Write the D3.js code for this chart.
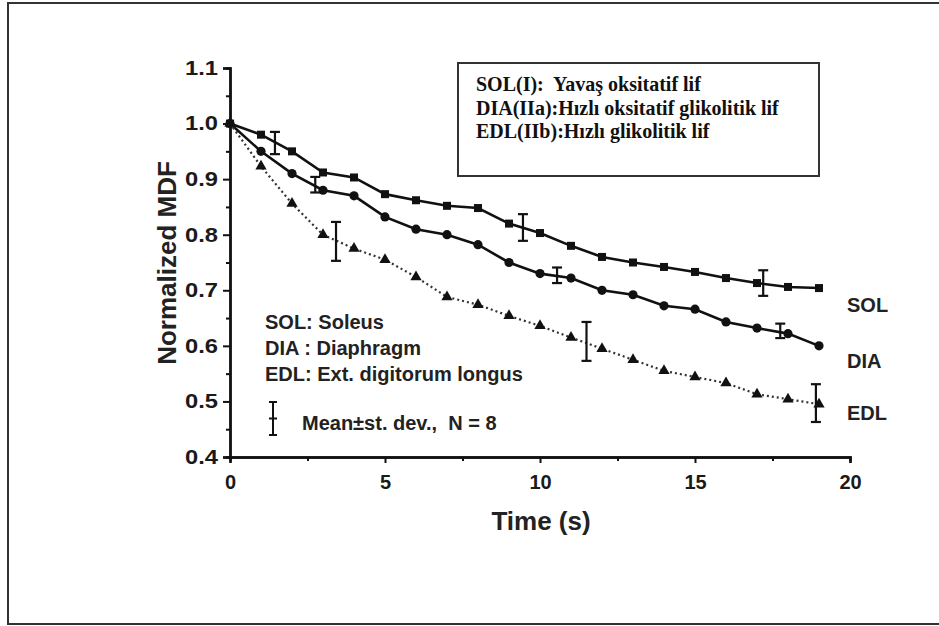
<!DOCTYPE html>
<html>
<head>
<meta charset="utf-8">
<script src="https://cdn.jsdelivr.net/npm/d3@7"></script>
<style>
  body { margin: 0; background: #fff; }
  text { font-family: "Liberation Sans", Arial, sans-serif; }
</style>
</head>
<body>
<svg id="chart" width="939" height="626"></svg>
<script>
// time points (s)
let time = d3.range(0, 20);
let solValues = [1.0, 0.98, 0.95, 0.912, 0.903, 0.873, 0.862, 0.852, 0.848, 0.82,
	0.803, 0.78, 0.76, 0.75, 0.742, 0.733, 0.722, 0.713, 0.706, 0.704];
let diaValues = [1.0, 0.95, 0.91, 0.88, 0.87, 0.832, 0.81, 0.80, 0.782, 0.75,
	0.73, 0.722, 0.70, 0.692, 0.672, 0.666, 0.643, 0.632, 0.622, 0.60];
let edlValues = [1.0, 0.923, 0.856, 0.80, 0.775, 0.755, 0.724, 0.688, 0.674, 0.654,
	0.636, 0.615, 0.595, 0.575, 0.555, 0.544, 0.533, 0.513, 0.504, 0.495];

// error bars: time, mean, sd
let solErr = [[1.45, 0.965, 0.02], [9.45, 0.813, 0.024], [17.2, 0.713, 0.023]];
let diaErr = [[2.75, 0.89, 0.014], [10.55, 0.727, 0.014], [17.75, 0.627, 0.013]];
let edlErr = [[3.42, 0.788, 0.035], [11.5, 0.608, 0.035], [18.9, 0.497, 0.034]];

let xTicks = [0, 5, 10, 15, 20];
let yTicks = [0.4, 0.5, 0.6, 0.7, 0.8, 0.9, 1.0, 1.1];

let legendLines = [
	'SOL(I):  Yavaş oksitatif lif',
	'DIA(IIa):Hızlı oksitatif glikolitik lif',
	'EDL(IIb):Hızlı glikolitik lif'
];
let noteLines = ['SOL: Soleus', 'DIA : Diaphragm', 'EDL: Ext. digitorum longus'];
let seriesNames = ['SOL', 'DIA', 'EDL'];

let svg = d3.select('#chart');

// outer frame
svg.append('rect')
	.attr('x', 8).attr('y', 3)
	.attr('width', 940).attr('height', 621)
	.attr('fill', 'none')
	.attr('stroke', '#333')
	.attr('stroke-width', 2);

let x = d3.scaleLinear().domain([0, 20]).range([230, 850]);
let y = d3.scaleLinear().domain([0.4, 1.1]).range([457, 68]);

//axes
svg.append('g')
	.attr('class', 'major x')
	.attr('transform', 'translate(0,' + y(0.4) + ')')
	.call(d3.axisBottom(x).tickValues(xTicks).tickSize(6).tickPadding(12).tickFormat(d3.format('d')));
svg.append('g')
	.attr('transform', 'translate(0,' + y(0.4) + ')')
	.call(d3.axisBottom(x).tickValues([2.5, 7.5, 12.5, 17.5]).tickSize(4).tickFormat(''));
svg.append('g')
	.attr('class', 'major y')
	.attr('transform', 'translate(' + x(0) + ',0)')
	.call(d3.axisLeft(y).tickValues(yTicks).tickSize(7).tickPadding(5).tickFormat(d3.format('.1f')));
svg.append('g')
	.attr('transform', 'translate(' + x(0) + ',0)')
	.call(d3.axisLeft(y).tickValues([0.45, 0.55, 0.65, 0.75, 0.85, 0.95, 1.05]).tickSize(4).tickFormat(''));

svg.selectAll('.domain').attr('stroke', '#111').attr('stroke-width', 2.4);
svg.selectAll('.tick line').attr('stroke', '#111').attr('stroke-width', 2);
svg.selectAll('.tick text')
	.attr('fill', '#1a1a1a')
	.style('font-size', '20px')
	.style('font-weight', 'bold');
// y labels in the picture are drawn a bit wider
svg.selectAll('.major.y .tick text')
	.attr('textLength', 33)
	.attr('lengthAdjust', 'spacingAndGlyphs');

svg.append('text')
	.attr('transform', 'translate(176,263) rotate(-90)')
	.attr('text-anchor', 'middle')
	.style('font-size', '26px').style('font-weight', 'bold')
	.attr('fill', '#222')
	.text('Normalized MDF');
svg.append('text')
	.attr('x', 541).attr('y', 530)
	.attr('text-anchor', 'middle')
	.style('font-size', '26px').style('font-weight', 'bold')
	.attr('fill', '#222')
	.text('Time (s)');

let line = d3.line().x(function(d, i){
	return x(time[i]);
}).y(function(d){
	return y(d);
});

function drawErr(errs) {
	let g = svg.append('g');
	errs.forEach(function(e) {
		let cx = x(e[0]), y1 = y(e[1] + e[2]), y2 = y(e[1] - e[2]);
		g.append('line').attr('x1', cx).attr('x2', cx).attr('y1', y1).attr('y2', y2)
			.attr('stroke', '#111').attr('stroke-width', 2.2);
		g.append('line').attr('x1', cx - 5).attr('x2', cx + 5).attr('y1', y1).attr('y2', y1)
			.attr('stroke', '#111').attr('stroke-width', 2.2);
		g.append('line').attr('x1', cx - 5).attr('x2', cx + 5).attr('y1', y2).attr('y2', y2)
			.attr('stroke', '#111').attr('stroke-width', 2.2);
	});
}

//SOL
svg.append('path').attr('d', line(solValues))
	.attr('fill', 'none').attr('stroke', '#111').attr('stroke-width', 2.6);
svg.append('g').selectAll('rect').data(solValues).join('rect')
	.attr('x', function(d, i){ return x(time[i]) - 4; })
	.attr('y', function(d){ return y(d) - 4; })
	.attr('width', 8).attr('height', 8)
	.attr('fill', '#111');
drawErr(solErr);

//DIA
svg.append('path').attr('d', line(diaValues))
	.attr('fill', 'none').attr('stroke', '#111').attr('stroke-width', 2.6);
svg.append('g').selectAll('circle').data(diaValues).join('circle')
	.attr('cx', function(d, i){ return x(time[i]); })
	.attr('cy', function(d){ return y(d); })
	.attr('r', 4.6)
	.attr('fill', '#111');
drawErr(diaErr);

//EDL
svg.append('path').attr('d', line(edlValues))
	.attr('fill', 'none').attr('stroke', '#333').attr('stroke-width', 2.2)
	.attr('stroke-dasharray', '2,3');
let tri = d3.symbol().type(d3.symbolTriangle).size(55);
svg.append('g').selectAll('path').data(edlValues).join('path')
	.attr('d', tri)
	.attr('transform', function(d, i){ return 'translate(' + x(time[i]) + ',' + y(d) + ')'; })
	.attr('fill', '#111');
drawErr(edlErr);

// series labels at right (baselines)
let labelBase = [312, 368, 420];
svg.append('g').selectAll('text').data(seriesNames).join('text')
	.attr('x', 847)
	.attr('y', function(d, i){ return labelBase[i]; })
	.style('font-size', '20px').style('font-weight', 'bold')
	.attr('fill', '#222')
	.text(function(d){ return d; });

// legend box
svg.append('rect')
	.attr('x', 458).attr('y', 63)
	.attr('width', 361).attr('height', 113)
	.attr('fill', '#fff')
	.attr('stroke', '#333').attr('stroke-width', 2);
svg.append('g').selectAll('text').data(legendLines).join('text')
	.attr('x', 476)
	.attr('y', function(d, i){ return 91 + i * 23.5; })
	.attr('xml:space', 'preserve')
	.style('font-family', '"Liberation Serif", "Times New Roman", serif')
	.style('font-size', '20px').style('font-weight', 'bold')
	.attr('fill', '#111')
	.text(function(d){ return d; });

// notes
svg.append('g').selectAll('text').data(noteLines).join('text')
	.attr('x', 265)
	.attr('y', function(d, i){ return 329 + i * 26; })
	.style('font-size', '20px').style('font-weight', 'bold')
	.attr('fill', '#222')
	.text(function(d){ return d; });

// error bar key
let kx = 273, ky1 = 402, ky2 = 435;
svg.append('line').attr('x1', kx).attr('x2', kx).attr('y1', ky1).attr('y2', ky2)
	.attr('stroke', '#111').attr('stroke-width', 2);
svg.append('line').attr('x1', kx - 4).attr('x2', kx + 4).attr('y1', ky1).attr('y2', ky1)
	.attr('stroke', '#111').attr('stroke-width', 2);
svg.append('line').attr('x1', kx - 4).attr('x2', kx + 4).attr('y1', ky2).attr('y2', ky2)
	.attr('stroke', '#111').attr('stroke-width', 2);
svg.append('line').attr('x1', kx - 4).attr('x2', kx + 4).attr('y1', (ky1 + ky2) / 2).attr('y2', (ky1 + ky2) / 2)
	.attr('stroke', '#111').attr('stroke-width', 2);
svg.append('text')
	.attr('x', 302).attr('y', 430)
	.style('font-size', '20px').style('font-weight', 'bold')
	.attr('fill', '#222')
	.attr('xml:space', 'preserve')
	.text('Mean\u00B1st. dev.,  N = 8');
</script>
</body>
</html>
